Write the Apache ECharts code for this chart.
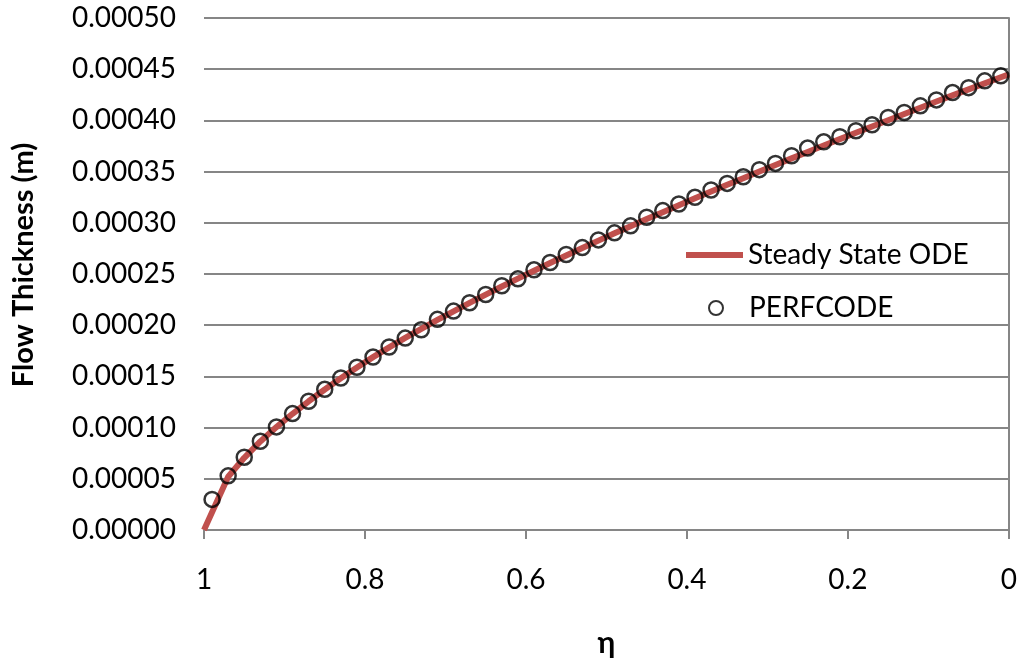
<!DOCTYPE html>
<html>
<head>
<meta charset="utf-8">
<title>Flow Thickness</title>
<script src="https://cdn.jsdelivr.net/npm/echarts@6/dist/echarts.min.js"></script>
<style>
  html, body { margin: 0; padding: 0; background: #fff; }
  #chart { width: 1020px; height: 663px; }
</style>
</head>
<body>
<div id="chart"></div>
<script>
// Steady State ODE curve (eta, thickness in m)
var odeEta = [1, 0.97, 0.95, 0.93, 0.91, 0.89, 0.87, 0.85, 0.83, 0.81, 0.79, 0.77, 0.75, 0.73, 0.71, 0.69, 0.67, 0.65, 0.63, 0.61,
  0.59, 0.57, 0.55, 0.53, 0.51, 0.49, 0.47, 0.45, 0.43, 0.41, 0.39, 0.37, 0.35, 0.33, 0.31, 0.29, 0.27, 0.25, 0.23, 0.21,
  0.19, 0.17, 0.15, 0.13, 0.11, 0.09, 0.07, 0.05, 0.03, 0.01, 0];
var odeThickness = [0, 0.0000520, 0.0000705, 0.0000865, 0.0001005, 0.0001135, 0.0001257, 0.0001372, 0.0001482, 0.0001587,
  0.0001688, 0.0001784, 0.0001876, 0.0001964, 0.0002051, 0.0002135, 0.0002218, 0.0002299, 0.0002378, 0.0002455,
  0.0002532, 0.0002607, 0.0002681, 0.0002754, 0.0002826, 0.0002897, 0.0002967, 0.0003036, 0.0003104, 0.0003172,
  0.0003239, 0.0003305, 0.0003371, 0.0003436, 0.0003501, 0.0003565, 0.0003629, 0.0003692, 0.0003755, 0.0003817,
  0.0003879, 0.0003941, 0.0004002, 0.0004063, 0.0004124, 0.0004184, 0.0004244, 0.0004303, 0.0004362, 0.0004421, 0.0004450];

// PERFCODE points
var perfEta = [0.99, 0.97, 0.95, 0.93, 0.91, 0.89, 0.87, 0.85, 0.83, 0.81, 0.79, 0.77, 0.75, 0.73, 0.71, 0.69, 0.67, 0.65, 0.63, 0.61,
  0.59, 0.57, 0.55, 0.53, 0.51, 0.49, 0.47, 0.45, 0.43, 0.41, 0.39, 0.37, 0.35, 0.33, 0.31, 0.29, 0.27, 0.25, 0.23, 0.21,
  0.19, 0.17, 0.15, 0.13, 0.11, 0.09, 0.07, 0.05, 0.03, 0.01];
var perfThickness = [0.0000299, 0.0000529, 0.0000711, 0.0000867, 0.0001007, 0.0001137, 0.0001257, 0.0001374, 0.0001484, 0.0001589,
  0.0001689, 0.0001787, 0.0001874, 0.0001956, 0.0002057, 0.0002138, 0.0002219, 0.0002300, 0.0002385, 0.0002453,
  0.0002541, 0.0002612, 0.0002690, 0.0002758, 0.0002833, 0.0002902, 0.0002970, 0.0003054, 0.0003119, 0.0003184,
  0.0003249, 0.0003320, 0.0003385, 0.0003450, 0.0003519, 0.0003580, 0.0003655, 0.0003730, 0.0003791, 0.0003840,
  0.0003899, 0.0003957, 0.0004028, 0.0004077, 0.0004142, 0.0004200, 0.0004272, 0.0004320, 0.0004386, 0.0004435];

var font = 'Lato, "Open Sans", sans-serif';
var axisGray = '#868686';
var odeRed = '#C0504D';

var dom = document.getElementById('chart');
var myChart = echarts.init(dom, null, { renderer: 'canvas' });

var odeData = odeEta.map(function (e, i) { return [e, odeThickness[i]]; });
var perfData = perfEta.map(function (e, i) { return [e, perfThickness[i]]; });

var option = {
  animation: false,
  backgroundColor: '#fff',
  textStyle: { fontFamily: font, color: '#000' },
  grid: { left: 204, right: 11, top: 18, bottom: 132, containLabel: false },
  legend: [
    {
      data: [{ name: 'Steady State ODE', icon: 'rect' }],
      left: 681, top: 236,
      itemWidth: 57, itemHeight: 6,
      itemStyle: { color: odeRed, borderWidth: 0 },
      textStyle: { fontFamily: font, fontSize: 28, color: '#000' }
    },
    {
      data: ['PERFCODE'],
      left: 703, top: 289,
      itemWidth: 56, itemHeight: 14,
      textStyle: { fontFamily: font, fontSize: 28, color: '#000' }
    }
  ],
  xAxis: {
    type: 'value',
    inverse: true,
    min: 0, max: 1, interval: 0.2,
    name: 'η',
    nameLocation: 'middle',
    nameGap: 98,
    nameTextStyle: { fontFamily: font, fontSize: 30, fontWeight: 'bold', color: '#000' },
    axisLine: { show: true, onZero: false, lineStyle: { color: axisGray, width: 2 } },
    axisTick: { show: true, length: 9, lineStyle: { color: axisGray, width: 2 } },
    axisLabel: { margin: 36, fontFamily: font, fontSize: 28, color: '#000' },
    splitLine: { show: false }
  },
  yAxis: {
    type: 'value',
    min: 0, max: 0.0005, interval: 0.00005,
    name: 'Flow Thickness (m)',
    nameLocation: 'middle',
    nameGap: 166,
    nameTextStyle: { fontFamily: font, fontSize: 29, fontWeight: 'bold', color: '#000', padding: [0, 0, 0, 18] },
    axisLine: { show: true, lineStyle: { color: axisGray, width: 2 } },
    axisTick: { show: false },
    axisLabel: {
      margin: 28, fontFamily: font, fontSize: 28, color: '#000',
      formatter: function (v) { return v.toFixed(5); }
    },
    splitLine: { show: true, lineStyle: { color: axisGray, width: 2 } }
  },
  series: [
    {
      name: 'Steady State ODE',
      type: 'line',
      data: odeData,
      showSymbol: false,
      symbol: 'none',
      lineStyle: { color: odeRed, width: 6 },
      itemStyle: { color: odeRed },
      z: 2
    },
    {
      name: 'PERFCODE',
      type: 'scatter',
      data: perfData,
      symbol: 'circle',
      symbolSize: 15,
      itemStyle: { color: 'rgba(255,255,255,0)', borderColor: '#000', borderWidth: 2.5 },
      z: 3
    }
  ]
};

myChart.setOption(option);
window.addEventListener('resize', myChart.resize);
</script>
</body>
</html>
